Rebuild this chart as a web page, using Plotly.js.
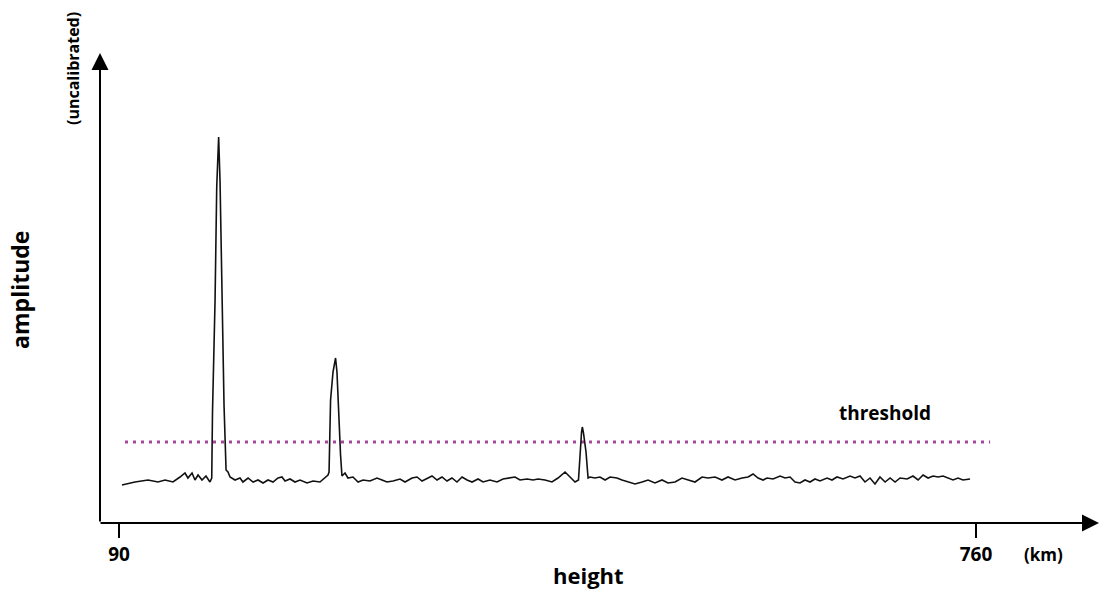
<!DOCTYPE html>
<html>
<head>
<meta charset="utf-8">
<script src="https://cdn.plot.ly/plotly-3.0.1.min.js"></script>
<style>html,body{margin:0;padding:0;background:#fff;}#chart{width:1100px;height:590px;}</style>
</head>
<body>
<div id="chart"></div>
<script>
// Echo trace: height (km) vs uncalibrated amplitude
const heightKm = [
  92.3,102.5,112.7,120.5,126.0,132.2,137.7,141.6,143.9,147.1,149.4,151.8,154.9,158.0,161.1,
  162.5,163.1,165.1,166.4,167.9,169.0,170.3,172.1,173.7,
  175.2,176.8,180.7,184.6,186.9,190.9,194.8,198.7,202.6,206.5,210.4,214.3,217.4,219.8,223.7,227.6,231.5,237.0,241.7,247.1,251.1,253.4,
  254.2,255.4,257.3,259.3,260.4,261.6,263.2,264.3,
  266.7,269.0,272.9,276.9,280.8,286.2,291.7,295.6,299.5,304.2,309.7,313.6,319.1,323.0,326.9,331.6,334.7,338.6,342.5,346.4,350.3,354.2,358.2,362.1,366.0,370.7,374.6,380.0,385.5,390.2,395.7,399.6,403.5,409.0,413.7,417.6,423.0,428.5,433.2,438.7,442.6,446.5,
  449.2,450.4,451.6,452.2,453.1,455.1,456.7,
  458.2,462.1,466.0,470.0,473.9,479.3,483.2,487.9,493.4,498.9,503.6,509.0,514.5,519.2,524.7,530.1,534.8,540.3,545.8,550.5,556.0,561.4,566.1,571.6,577.1,581.8,585.7,589.6,
  593.5,596.6,601.3,606.8,610.7,614.6,618.5,622.4,626.3,630.2,634.1,638.0,643.5,647.4,651.3,656.0,661.5,665.4,669.3,673.2,677.1,681.0,684.9,688.9,692.8,696.7,700.6,706.1,710.7,714.7,718.6,722.5,726.4,730.3,734.2,738.1,742.0,745.9,749.8,755.3
];
const amplitude = [
  7.6,8.2,8.6,8.2,8.6,8.2,9.2,10.0,9.0,10.0,8.6,9.6,8.6,9.4,8.2,
  9.0,22.2,44.6,67.2,77.2,68.2,47.0,23.6,10.6,
  10.2,9.2,8.6,9.0,8.2,9.0,8.2,8.6,8.0,8.6,8.2,9.0,9.2,8.4,8.8,8.2,8.6,8.0,8.4,8.2,9.0,9.6,
  10.2,24.6,30.2,33.0,30.2,22.0,13.6,9.4,
  10.0,9.0,9.2,8.2,8.6,8.4,9.0,8.6,8.2,8.4,8.8,8.2,9.0,9.2,8.4,9.0,9.4,8.6,9.2,8.4,9.0,8.2,9.2,8.6,8.2,8.8,8.2,8.6,8.2,8.8,9.0,9.2,8.6,8.8,8.6,8.8,8.6,8.2,9.0,10.2,9.2,8.2,
  8.6,14.2,18.2,19.2,18.0,14.2,9.0,
  9.2,9.0,9.2,8.6,9.2,9.0,8.6,8.2,7.8,8.2,8.6,8.0,8.6,8.0,8.2,9.0,8.6,8.2,9.2,9.0,9.2,8.6,9.2,8.6,9.0,9.2,9.8,9.0,
  8.6,9.0,8.8,9.4,9.0,9.2,8.2,8.0,8.6,8.2,8.8,8.4,9.0,8.6,9.2,8.8,9.4,9.0,9.4,8.2,9.0,7.8,9.2,8.2,9.0,8.2,9.0,8.8,9.4,8.6,9.6,9.0,9.4,9.2,9.4,9.0,8.6,9.0,8.6,8.8
];
const thresholdX = [94.7, 771.0];
const thresholdY = [16.2, 16.2];
const tickValues = [90, 760];
const tickLabels = ['<b>90</b>', '<b>760</b>'];
const xRange = [75.15, 856.9];
const yRange = [0, 94];

const FONT = 'Open Sans, Noto Sans, sans-serif';

const traces = [
  {
    x: thresholdX, y: thresholdY, mode: 'lines', type: 'scatter',
    line: {color: '#a8479e', width: 3, dash: '3px,5px'},
    hoverinfo: 'skip', showlegend: false
  },
  {
    x: heightKm, y: amplitude, mode: 'lines', type: 'scatter',
    line: {color: '#111111', width: 1.6},
    showlegend: false
  }
];

const layout = {
  width: 1100, height: 590,
  margin: {l: 100, r: 0, t: 53, b: 67, pad: 0},
  paper_bgcolor: '#ffffff', plot_bgcolor: '#ffffff',
  showlegend: false,
  font: {family: FONT, color: '#000'},
  xaxis: {
    range: xRange, showgrid: false, zeroline: false, showline: false,
    tickmode: 'array', tickvals: tickValues, ticktext: tickLabels,
    ticks: 'outside', ticklen: 14, tickwidth: 1.5, tickcolor: '#000',
    tickfont: {family: FONT, size: 19, color: '#000'},
    fixedrange: true
  },
  yaxis: {
    range: yRange, showgrid: false, zeroline: false, showline: false,
    showticklabels: false, ticks: '', fixedrange: true
  },
  annotations: [
    // x axis with arrow
    {xref: 'paper', yref: 'paper', x: 0.999, y: 0, axref: 'pixel', ayref: 'pixel',
     ax: -1000, ay: 0, showarrow: true, arrowhead: 2, arrowsize: 1.7, arrowwidth: 2,
     arrowcolor: '#000', text: '', standoff: 0, startstandoff: 0},
    // y axis with arrow
    {xref: 'paper', yref: 'paper', x: 0, y: 1, axref: 'pixel', ayref: 'pixel',
     ax: 0, ay: 470, showarrow: true, arrowhead: 2, arrowsize: 1.7, arrowwidth: 2,
     arrowcolor: '#000', text: '', standoff: 0, startstandoff: 0},
    {xref: 'paper', yref: 'paper', x: 0.943, y: -0.066, yanchor: 'middle', xanchor: 'center',
     text: '<b>(km)</b>', showarrow: false, font: {family: FONT, size: 17, color: '#000'}},
    {xref: 'paper', yref: 'paper', x: 0.488, y: -0.11, yanchor: 'middle', xanchor: 'center',
     text: '<b>height</b>', showarrow: false, font: {family: FONT, size: 22, color: '#000'}},
    {xref: 'paper', yref: 'paper', x: -0.08, y: 0.496, yanchor: 'middle', xanchor: 'center',
     textangle: -90, text: '<b>amplitude</b>', showarrow: false, font: {family: FONT, size: 23, color: '#000'}},
    {xref: 'paper', yref: 'paper', x: -0.027, y: 0.966, yanchor: 'middle', xanchor: 'center',
     textangle: -90, text: '<b>(uncalibrated)</b>', showarrow: false, font: {family: FONT, size: 16, color: '#000'}},
    {xref: 'x', yref: 'y', x: 689, y: 22, yanchor: 'middle', xanchor: 'center',
     text: '<b>threshold</b>', showarrow: false, font: {family: FONT, size: 19, color: '#000'}}
  ]
};

Plotly.newPlot('chart', traces, layout, {displayModeBar: false, staticPlot: true});
</script>
</body>
</html>
